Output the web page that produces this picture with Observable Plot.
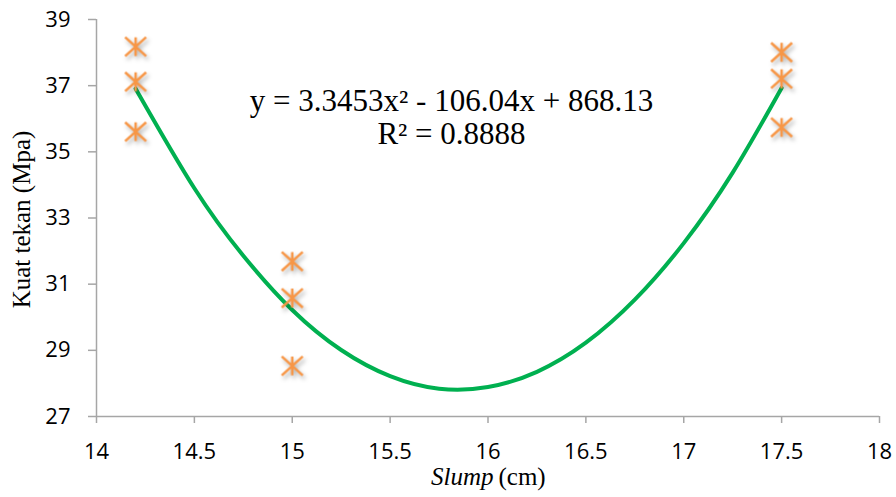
<!DOCTYPE html>
<html><head><meta charset="utf-8">
<script src="https://cdn.jsdelivr.net/npm/d3@7"></script>
<script src="https://cdn.jsdelivr.net/npm/@observablehq/plot@0.6"></script>
<style>body{margin:0;background:#fff}</style>
</head><body><div id="chart"></div>
<script>
const slumpX = [14.2, 14.2, 14.2, 15, 15, 15, 17.5, 17.5, 17.5];
const kuatTekan = [38.18, 37.12, 35.61, 31.69, 30.58, 28.53, 38.01, 37.21, 35.74];
const trendX = [14.2, 14.5, 14.75, 15, 15.25, 15.5, 15.75, 16, 16.25, 16.5, 16.75, 17, 17.25, 17.5];
const trendY = [36.91, 33.90, 31.86, 30.22, 29.01, 28.22, 27.84, 27.89, 28.35, 29.23, 30.53, 32.24, 34.37, 36.93];
const xTicks = [14, 14.5, 15, 15.5, 16, 16.5, 17, 17.5, 18];
const yTicks = [27, 29, 31, 33, 35, 37, 39];
const equationLines = ["y = 3.3453x² - 106.04x + 868.13", "R² = 0.8888"];
const yTitle = "Kuat tekan (Mpa)";
const xTitleItalic = "Slump";
const xTitleUnit = "(cm)";

const points = slumpX.map((x, i) => ({x, y: kuatTekan[i]}));
const trend = trendX.map((x, i) => ({x, y: trendY[i]}));

const star = {
  draw(ctx, size) {
    const r = Math.sqrt(size / Math.PI);
    const h = r * 0.9;
    ctx.moveTo(-r, -h); ctx.lineTo(r, h);
    ctx.moveTo(r, -h); ctx.lineTo(-r, h);
    ctx.moveTo(0, -h); ctx.lineTo(0, h);
  }
};

const gray = "#a6a6a6";
const sans = "'Open Sans', sans-serif";
const serif = "'Liberation Serif', 'Times New Roman', serif";

const chart = Plot.plot({
  width: 896,
  height: 497,
  marginLeft: 96,
  marginRight: 17,
  marginTop: 19,
  marginBottom: 81,
  style: {background: "#fff", overflow: "visible"},
  x: {domain: [14, 18]},
  y: {domain: [27, 39]},
  marks: [
    Plot.ruleX([14], {stroke: gray, strokeWidth: 1.5}),
    Plot.ruleY([27], {stroke: gray, strokeWidth: 1.5}),
    Plot.axisX(xTicks, {tickSize: 7, tickPadding: 20, stroke: gray, strokeWidth: 1.5, fill: "black", fontSize: 22, fontFamily: sans, tickFormat: d => String(d), label: null}),
    Plot.axisY(yTicks, {tickSize: 8, tickPadding: 18, stroke: gray, strokeWidth: 1.5, fill: "black", fontSize: 22, fontFamily: sans, tickFormat: d => String(d), label: null}),
    Plot.line(trend, {x: "x", y: "y", curve: "natural", stroke: "#00B050", strokeWidth: 4}),
    Plot.dot(points, {x: "x", y: "y", symbol: star, r: 10.5, stroke: "#F79646", strokeWidth: 2.5, fill: "none"}),
    Plot.text([equationLines.join("\n")], {frameAnchor: "top", lineAnchor: "middle", dx: -36.5, dy: 97.5, lineHeight: 1.065, fontSize: 31, fontFamily: serif, fill: "black"}),
    Plot.text([yTitle], {frameAnchor: "left", textAnchor: "middle", rotate: -90, dx: -75, dy: 1.5, fontSize: 25, fontFamily: serif, fill: "black"}),
    Plot.text([xTitleItalic], {frameAnchor: "bottom", lineAnchor: "middle", textAnchor: "end", dx: 5.5, dy: 60, fontSize: 25, fontStyle: "italic", fontFamily: serif, fill: "black"}),
    Plot.text([xTitleUnit], {frameAnchor: "bottom", lineAnchor: "middle", textAnchor: "start", dx: 10.5, dy: 60, fontSize: 25, fontFamily: serif, fill: "black"})
  ]
});
const dotG = chart.querySelector('g[aria-label="dot"]');
if (dotG) dotG.style.filter = "drop-shadow(2px 3px 2px rgba(0,0,0,0.3))";
document.getElementById("chart").appendChild(chart);
</script>
</body></html>
